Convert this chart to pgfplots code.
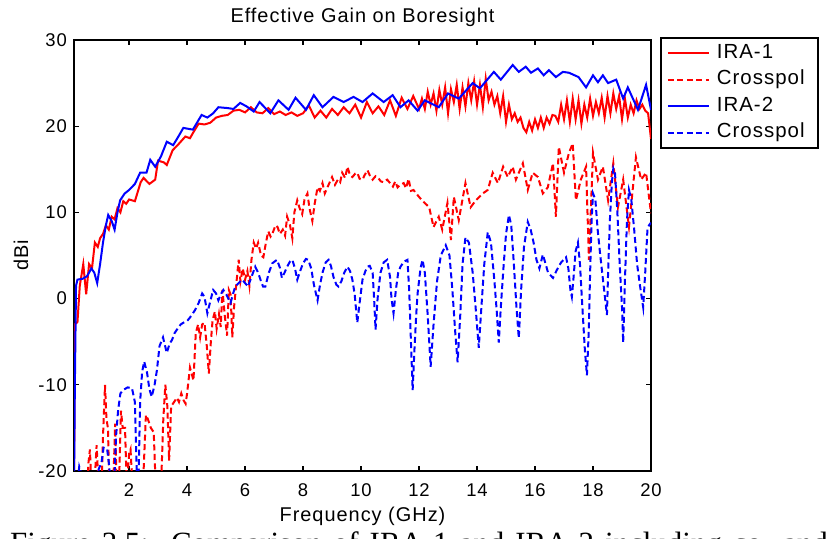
\documentclass[border=0pt]{standalone}
\usepackage{pgfplots}
\pgfplotsset{compat=1.18}
\usepackage{fontspec}
\setmainfont{Liberation Sans}[LetterSpace=5]
\newfontfamily\capfont{Liberation Serif}

\begin{document}
\begin{tikzpicture}[x=1bp,y=1bp]
\useasboundingbox (0,0) rectangle (835,539);
\begin{axis}[
  at={(74bp,68bp)}, anchor=south west,
  scale only axis, width=577bp, height=431bp,
  xmin=0.1, xmax=20, ymin=-20, ymax=30,
  xtick={2,4,...,20}, xticklabels={2,4,6,8,10,12,14,16,18,20},
  ytick={-20,-10,...,30}, yticklabels={-20,-10,0,10,20,30},
  tick align=inside, major tick length=5bp,
  tick style={black, line width=1.3bp},
  every axis/.append style={line width=2.2bp},
  axis line style={line width=2.2bp},
  ticklabel style={font=\fontsize{18.5}{20}\selectfont, inner sep=0pt},
  xticklabel style={yshift=-12bp},
  yticklabel style={xshift=-6bp},
  title={Effective Gain on Boresight},
  title style={font=\fontsize{20}{24}\selectfont, at={(axis description cs:0.5,1.0278)}, anchor=base, inner sep=0pt},
  xlabel={Frequency (GHz)},
  xlabel style={font=\fontsize{20}{24}\selectfont, at={(axis description cs:0.5,-0.1183)}, anchor=base, inner sep=0pt},
  ylabel={dBi},
  ylabel style={font=\fontsize{20}{24}\selectfont, at={(axis description cs:-0.0797,0.5)}, anchor=base, inner sep=0pt},
  legend style={at={(axis description cs:1.0156,1.007)}, anchor=north west, draw=black, line width=1.8bp,
    inner xsep=6bp, inner ysep=2bp, font=\fontsize{20.5}{24}\selectfont,
    nodes={inner xsep=7bp, inner ysep=4.25bp, text height=14bp, text depth=4bp}, row sep=0pt},
  legend cell align=left,
  legend image code/.code={\draw[#1] (0bp,0bp) -- (41bp,0bp);},
]
% IRA-1
\addplot[red, line width=2bp] coordinates {
(0.1,-22)(0.13,-3)(0.22,-2.7)(0.3,1.5)(0.42,4)(0.52,0.5)(0.62,4)(0.72,3.5)(0.82,6.5)(0.92,6)(1.0,7)(1.1,7.5)(1.2,8.5)(1.3,8)(1.4,9.5)(1.5,9.2)(1.6,10.5)(1.7,10)(1.8,11.3)(1.9,11)(2.0,11.5)(2.2,11.3)(2.4,13.5)(2.5,14)(2.7,13.3)(2.9,13.8)(3.0,16)(3.2,15.8)(3.3,15.5)(3.5,17.2)(3.7,17.9)(3.94,18.8)(4.1,18.6)(4.2,19.2)(4.4,20.3)(4.6,20.2)(4.8,20.4)(5.0,21.0)(5.2,21.2)(5.4,21.3)(5.6,21.8)(5.8,21.9)(6.0,21.6)(6.2,22.2)(6.4,21.6)(6.6,21.5)(6.8,22.1)(7.0,21.4)(7.2,21.7)(7.4,21.3)(7.6,21.6)(7.8,21.2)(8.0,21.5)(8.2,22.4)(8.4,21.0)(8.6,21.8)(8.8,21.0)(9.0,22.0)(9.2,21.3)(9.4,22.2)(9.6,21.5)(9.8,22.5)(10.0,21.0)(10.2,22.8)(10.4,21.5)(10.6,22.3)(10.8,21.3)(11.0,23)(11.2,21.2)(11.4,23.3)(11.6,22)(11.8,23.5)(12.0,22)(12.1,23.2)(12.2,22)(12.3,24)(12.4,22.5)(12.5,23.8)(12.6,21.8)(12.7,24.2)(12.8,22.5)(12.9,24.5)(13.0,21.5)(13.1,24.3)(13.2,22.8)(13.3,24.8)(13.4,22)(13.5,24.5)(13.6,22.3)(13.7,25)(13.8,23)(13.9,25.2)(14.0,22.5)(14.1,24.8)(14.2,22.2)(14.3,25.5)(14.4,23)(14.5,24)(14.6,22.5)(14.7,23.5)(14.8,21.5)(14.9,23.5)(15.0,20.5)(15.1,22.5)(15.2,20.8)(15.3,21.5)(15.4,20.5)(15.5,21)(15.6,19.8)(15.7,19.3)(15.8,20.5)(15.9,19.5)(16.0,20.8)(16.1,19.8)(16.2,21)(16.3,19.8)(16.4,21)(16.5,20.3)(16.6,21.3)(16.7,21.2)(16.8,20.5)(16.9,22.5)(17.0,20.8)(17.1,23)(17.2,20.5)(17.3,23.2)(17.4,20.8)(17.5,23.0)(17.6,20.3)(17.7,22.5)(17.8,21)(17.9,23.2)(18.0,21.2)(18.1,22.8)(18.2,21.5)(18.3,23.3)(18.4,21)(18.5,23.5)(18.6,21.5)(18.7,23.8)(18.8,22)(18.9,23.5)(19.0,20.8)(19.1,23.2)(19.2,21)(19.3,22.5)(19.4,21.5)(19.5,23)(19.6,22)(19.7,22.5)(19.8,21.8)(19.9,21.5)(20.0,18.5)
};
\addlegendentry{IRA-1}
% IRA-1 crosspol
\addplot[red, line width=2bp, dash pattern=on 6bp off 3.5bp] coordinates {
(0.1,-22)(0.55,-22)(0.6,-19)(0.65,-17.5)(0.7,-22)(0.8,-22)(0.88,-17)(0.95,-22)(1.05,-22)(1.1,-16)(1.17,-10)(1.22,-14)(1.27,-15)(1.32,-22)(1.45,-22)(1.52,-14.5)(1.57,-22)(1.65,-22)(1.72,-13)(1.78,-15)(1.86,-15)(1.92,-22)(2.0,-18)(2.05,-17.5)(2.12,-22)(2.4,-22)(2.5,-20)(2.58,-13.5)(2.65,-14)(2.75,-15)(2.85,-15.5)(2.92,-22)(3.1,-22)(3.18,-14)(3.25,-10)(3.32,-12.5)(3.38,-18.8)(3.45,-12.5)(3.55,-12)(3.65,-11.5)(3.72,-12)(3.8,-11)(3.88,-11.8)(3.95,-12.2)(4.0,-11)(4.1,-8)(4.15,-8.6)(4.22,-9.5)(4.3,-4)(4.38,-3)(4.45,-4.5)(4.52,-3)(4.6,-2.8)(4.68,-5.5)(4.75,-8.7)(4.82,-5)(4.88,-2.5)(4.96,-1.5)(5.02,-3.5)(5.1,-1.8)(5.16,-3.3)(5.22,1)(5.3,-2)(5.38,-4.3)(5.44,1)(5.5,0.5)(5.56,-4.5)(5.62,-1)(5.7,1.8)(5.78,4.5)(5.84,2)(5.92,3.5)(6.0,2.2)(6.08,3.2)(6.15,1.5)(6.22,4.5)(6.3,6.5)(6.38,5.8)(6.45,6.5)(6.55,5)(6.63,4.8)(6.72,6.5)(6.8,7.8)(6.88,7.2)(6.95,7.6)(7.05,8.5)(7.12,8.3)(7.2,7.5)(7.3,8.0)(7.38,7.3)(7.45,9.5)(7.55,8.5)(7.63,7)(7.7,10)(7.8,11.4)(7.88,10.5)(7.97,9.8)(8.05,11.5)(8.15,12.2)(8.22,10.5)(8.32,9)(8.4,11)(8.5,12.9)(8.58,12.5)(8.67,13.4)(8.75,12.2)(8.84,12.9)(8.92,13.5)(9.0,14.1)(9.1,13.2)(9.2,13.8)(9.28,13.5)(9.35,14.6)(9.45,14)(9.53,15.3)(9.62,14.3)(9.7,14.1)(9.8,14.5)(9.87,14.6)(9.95,13.9)(10.05,13.8)(10.12,14.3)(10.22,14.9)(10.3,14.3)(10.4,13.8)(10.5,14.2)(10.57,14.1)(10.68,13.6)(10.78,13.5)(10.9,13.8)(11.0,13.4)(11.1,13.0)(11.18,13.6)(11.26,12.9)(11.35,13.2)(11.47,13.4)(11.55,12.8)(11.64,13.9)(11.72,12.5)(11.81,12.6)(11.9,12.2)(12.1,11.4)(12.35,10.6)(12.5,8.3)(12.68,9.5)(12.8,8.0)(12.98,11.1)(13.1,6.8)(13.2,11.8)(13.37,9.1)(13.6,13.4)(13.78,10.6)(13.96,11.4)(14.2,12.2)(14.37,12.6)(14.54,14.6)(14.72,13.4)(14.9,15.3)(15.06,14.1)(15.23,15.3)(15.34,13.8)(15.58,15.7)(15.75,12.6)(15.92,14.6)(16.1,14.1)(16.27,12.2)(16.44,12.9)(16.62,15.7)(16.72,9.5)(16.82,17.6)(17.0,14.6)(17.17,16.9)(17.3,18.0)(17.41,11.4)(17.58,13.8)(17.76,15.3)(17.86,4.5)(18.0,16.9)(18.17,13.8)(18.34,15.3)(18.52,11.4)(18.7,15.7)(18.86,10.6)(19.04,13.8)(19.24,8.3)(19.48,16.4)(19.66,13.8)(19.83,14.6)(20.0,9.9)
};
\addlegendentry{Crosspol}
% IRA-2
\addplot[blue, line width=2bp] coordinates {
(0.1,-22)(0.13,-10)(0.17,1.5)(0.22,2.2)(0.4,2.3)(0.55,2.6)(0.7,3.5)(0.8,3)(0.9,1.8)(1.0,4)(1.1,6.5)(1.2,8.5)(1.28,9.7)(1.4,9)(1.5,8.0)(1.6,10)(1.69,11.4)(1.85,12.2)(2.0,12.6)(2.2,13.3)(2.38,14.6)(2.6,14.6)(2.73,16.1)(2.9,15.3)(3.1,16.5)(3.3,18.2)(3.52,17.8)(3.7,18.8)(3.87,19.8)(4.2,19.6)(4.5,21.3)(4.7,21.0)(4.9,21.5)(5.08,22.2)(5.4,22.1)(5.6,22.0)(5.83,22.7)(6.05,22.3)(6.3,21.7)(6.5,22.8)(6.87,21.5)(7.15,23.0)(7.5,21.9)(7.74,23.3)(8.1,21.9)(8.37,23.6)(8.67,22.2)(9.05,23.4)(9.4,22.8)(9.74,23.4)(10.05,22.8)(10.4,23.8)(10.78,22.8)(11.09,23.6)(11.36,22.2)(11.64,23.0)(11.95,21.8)(12.2,23)(12.68,22.2)(13.0,23.8)(13.37,23.2)(13.85,25)(14.1,24.4)(14.58,26.3)(14.82,25.4)(15.23,27.1)(15.44,26.3)(15.68,26.9)(15.86,26.2)(16.1,26.7)(16.3,25.9)(16.48,26.5)(16.72,25.7)(16.96,26.3)(17.17,26.2)(17.5,25.7)(17.76,24.5)(18.0,25.9)(18.17,25.1)(18.34,25.9)(18.52,25.0)(18.8,25.4)(19.04,23.2)(19.2,24.5)(19.55,21.9)(19.83,24.8)(20.0,21.9)
};
\addlegendentry{IRA-2}
% IRA-2 crosspol
\addplot[blue, line width=2bp, dash pattern=on 6bp off 3.5bp] coordinates {
(0.1,-22)(0.2,-22)(0.28,-19.5)(0.35,-20.3)(0.5,-22)(0.9,-22)(0.95,-19.8)(1.05,-19)(1.12,-17.3)(1.24,-17.4)(1.3,-19)(1.38,-22)(1.48,-22)(1.55,-16)(1.62,-13)(1.7,-11)(1.8,-10.6)(1.95,-10.3)(2.1,-10.4)(2.2,-12)(2.28,-22)(2.32,-22)(2.38,-12)(2.45,-8.5)(2.52,-7.3)(2.62,-8.6)(2.7,-10.5)(2.78,-11.4)(2.88,-10)(2.96,-8.3)(3.05,-5.5)(3.17,-4.5)(3.3,-6.3)(3.4,-5.2)(3.48,-4.8)(3.57,-4.0)(3.65,-3.6)(3.78,-3)(3.87,-2.8)(4.0,-2.6)(4.1,-2.2)(4.28,-1.3)(4.4,-0.5)(4.52,0.6)(4.6,0.2)(4.7,-1.7)(4.8,-0.3)(4.9,1.0)(5.0,0.6)(5.08,-0.2)(5.18,0.6)(5.25,1.0)(5.35,0.5)(5.5,-0.5)(5.58,0.5)(5.66,1.4)(5.78,1.8)(5.9,2.2)(6.0,1.8)(6.1,1.4)(6.22,2.5)(6.35,3.7)(6.45,3.0)(6.53,2.2)(6.62,1.4)(6.7,1.4)(6.82,3.0)(6.94,4.1)(7.1,4.5)(7.2,3.6)(7.27,2.4)(7.36,3.0)(7.45,3.7)(7.55,4.3)(7.63,4.5)(7.72,3.5)(7.8,2.2)(7.9,3.2)(8.0,4.1)(8.1,4.6)(8.18,4.5)(8.28,3.5)(8.38,1.5)(8.5,-0.2)(8.58,1.5)(8.67,3)(8.78,4.2)(8.88,4.5)(8.96,3.8)(9.05,2.5)(9.15,1.6)(9.22,1.4)(9.32,2)(9.42,3)(9.53,3.7)(9.62,3.2)(9.7,2.2)(9.78,0.5)(9.87,-2.8)(9.95,-0.5)(10.05,2.2)(10.15,3.2)(10.22,3.7)(10.3,3.8)(10.4,3.0)(10.45,0)(10.5,-3.6)(10.57,0)(10.67,3.0)(10.78,4.2)(10.9,4.5)(11.0,2.5)(11.05,0)(11.12,-1.7)(11.2,1)(11.28,3)(11.36,3.7)(11.48,4.3)(11.6,4.5)(11.66,1)(11.72,-5)(11.78,-10.6)(11.84,-6)(11.9,-2)(11.95,0.6)(12.05,3.5)(12.12,4.5)(12.2,3)(12.3,-2)(12.4,-7.9)(12.5,-3)(12.62,2)(12.75,5)(12.92,6.2)(13.05,5)(13.15,1)(13.25,-4)(13.33,-7.4)(13.42,-2)(13.5,4)(13.6,7.1)(13.72,6.5)(13.85,3)(13.95,-1)(14.06,-5.7)(14.15,-1)(14.25,4)(14.37,7.7)(14.48,6.5)(14.6,2)(14.68,-1.5)(14.75,-5.1)(14.82,-1)(14.92,4)(15.0,7.5)(15.1,9.7)(15.18,8.5)(15.27,4)(15.36,-1)(15.44,-4.6)(15.52,1)(15.62,6)(15.75,8.9)(15.85,8)(15.95,6.5)(16.05,4.5)(16.15,3.5)(16.27,5.1)(16.35,4.2)(16.45,3)(16.62,2.4)(16.75,3.3)(16.9,4.2)(17.07,4.8)(17.15,3.5)(17.22,1)(17.27,0.2)(17.33,2.5)(17.4,5.5)(17.48,6.5)(17.55,4)(17.65,-2)(17.72,-6)(17.79,-8.9)(17.85,-4)(17.9,3)(17.95,9)(18.0,12.2)(18.08,11.5)(18.16,8)(18.25,5)(18.35,2)(18.48,-1.9)(18.52,3)(18.58,9)(18.65,13.5)(18.7,15.1)(18.76,14.5)(18.84,10)(18.92,4)(19.0,-1)(19.04,-5.1)(19.1,2)(19.17,9)(19.24,12.6)(19.32,11.5)(19.42,8)(19.52,4)(19.62,1.5)(19.73,-1.0)(19.8,3)(19.88,8.2)(19.95,8.6)(20.0,8.8)
};
\addlegendentry{Crosspol}
\end{axis}
\node[anchor=base west, inner sep=0pt, font=\capfont\fontsize{31}{33}\selectfont] at (10,-15) {\spaceskip=11bp\relax Figure 3.5:\ \ Comparison of IRA-1 and IRA-2 including co- and};
\end{tikzpicture}
\end{document}
